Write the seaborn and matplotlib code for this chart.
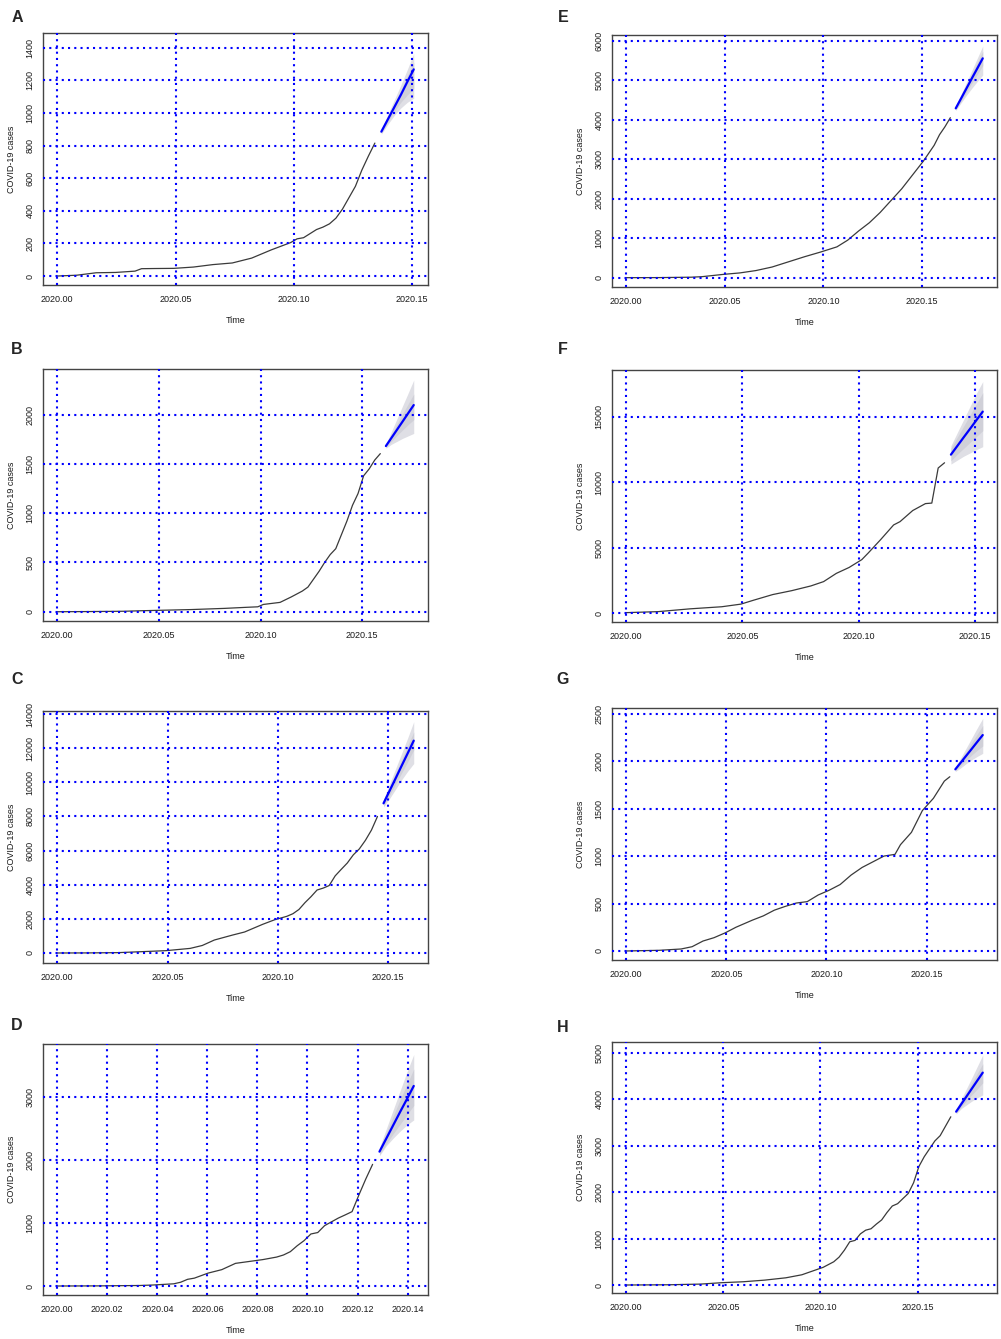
import numpy as np
import pandas as pd
import seaborn as sns
from matplotlib import pyplot as plt

# datos (dias desde 2020.00, casos acumulados)

# A
a_days = [0, 3, 6, 9, 12, 13, 15, 18, 21, 24, 27, 30, 33, 36, 37, 38, 39, 40, 41, 42, 43, 44, 45, 46, 47, 48, 49]
a_cases = [0, 5, 20, 22, 30, 45, 46, 47, 55, 70, 80, 110, 160, 205, 228, 235, 260, 285, 300, 320, 355, 410, 480, 550, 650, 735, 815]
a_fc_days = [50, 51, 52, 53, 54, 55]
a_fc_mean = [885, 960, 1035, 1110, 1190, 1267]
a_lo80 = [875, 945, 1010, 1065, 1110, 1150]
a_hi80 = [895, 975, 1060, 1140, 1225, 1310]
a_lo95 = [870, 930, 985, 1030, 1065, 1090]
a_hi95 = [900, 990, 1080, 1170, 1265, 1365]

# B
b_days = [0, 6, 12, 15, 18, 24, 30, 34, 36, 37, 40, 42, 44, 45, 46, 47, 48, 49, 50, 51, 52, 53, 54, 55, 56, 57, 58]
b_cases = [0, 2, 5, 10, 14, 22, 34, 45, 50, 74, 95, 150, 210, 250, 330, 410, 500, 580, 640, 780, 920, 1080, 1200, 1380, 1450, 1540, 1605]
b_fc_days = [59, 60, 61, 62, 63, 64]
b_fc_mean = [1682, 1765, 1848, 1931, 2015, 2098]
b_lo80 = [1668, 1730, 1790, 1845, 1900, 1950]
b_hi80 = [1695, 1800, 1905, 2010, 2110, 2210]
b_lo95 = [1660, 1700, 1730, 1760, 1785, 1810]
b_hi95 = [1700, 1830, 1960, 2090, 2220, 2352]

# C
c_days = [0, 5, 10, 14, 18, 22, 24, 26, 29, 31, 34, 36, 38, 39, 40, 41, 42, 43, 44, 45, 46, 47, 48, 49, 50, 51, 52, 53]
c_cases = [0, 5, 20, 78, 137, 270, 440, 760, 1050, 1230, 1680, 1950, 2150, 2300, 2550, 2950, 3300, 3690, 3800, 3950, 4520, 4900, 5270, 5750, 6100, 6600, 7200, 8000]
c_fc_days = [54, 55, 56, 57, 58, 59]
c_fc_mean = [8768, 9500, 10230, 10970, 11700, 12440]
c_lo80 = [8600, 9250, 9900, 10550, 11200, 11900]
c_hi80 = [8950, 9750, 10550, 11350, 12150, 12950]
c_lo95 = [8550, 9050, 9600, 10150, 10650, 11100]
c_hi95 = [9000, 9900, 10800, 11700, 12600, 13550]

# D
d_days = [0, 6, 12, 14, 17, 18, 19, 20, 22, 24, 26, 28, 30, 32, 33, 34, 35, 36, 37, 38, 39, 40, 41, 42, 43, 44, 45, 46]
d_cases = [0, 2, 8, 16, 35, 60, 106, 125, 205, 260, 360, 390, 420, 460, 493, 546, 640, 721, 827, 850, 960, 1020, 1080, 1130, 1182, 1447, 1700, 1934]
d_fc_days = [47, 48, 49, 50, 51, 52]
d_fc_mean = [2136, 2345, 2555, 2765, 2970, 3180]
d_lo80 = [2090, 2260, 2420, 2570, 2720, 2870]
d_hi80 = [2180, 2440, 2700, 2960, 3200, 3450]
d_lo95 = [2070, 2230, 2350, 2460, 2560, 2640]
d_hi95 = [2200, 2500, 2800, 3100, 3400, 3680]

# E
e_days = [0, 6, 12, 14, 18, 21, 24, 27, 30, 33, 36, 39, 41, 43, 45, 47, 49, 51, 53, 55, 57, 58, 59, 60]
e_cases = [0, 2, 12, 25, 84, 120, 180, 270, 400, 530, 650, 780, 950, 1180, 1390, 1650, 1950, 2250, 2600, 2950, 3350, 3620, 3820, 4050]
e_fc_days = [61, 62, 63, 64, 65, 66]
e_fc_mean = [4287, 4540, 4795, 5050, 5300, 5553]
e_lo80 = [4250, 4470, 4700, 4930, 5150, 5370]
e_hi80 = [4330, 4610, 4890, 5170, 5450, 5730]
e_lo95 = [4230, 4430, 4620, 4800, 4970, 5130]
e_hi95 = [4350, 4650, 4950, 5250, 5560, 5865]

# F
f_days = [0, 5, 10, 15, 18, 20, 23, 26, 29, 31, 33, 35, 37, 38, 40, 42, 43, 45, 47, 48, 49, 50]
f_cases = [50, 127, 340, 500, 700, 1000, 1430, 1730, 2090, 2420, 3050, 3500, 4100, 4600, 5650, 6750, 7000, 7850, 8380, 8420, 11100, 11500]
f_fc_days = [51, 52, 53, 54, 55, 56]
f_fc_mean = [12121, 12780, 13440, 14090, 14750, 15407]
f_lo80 = [11650, 12150, 12600, 13050, 13500, 13950]
f_hi80 = [12600, 13450, 14300, 15150, 16000, 16850]
f_lo95 = [11400, 11700, 12000, 12250, 12500, 12730]
f_hi95 = [12800, 13800, 14800, 15800, 16800, 17700]

# G
g_days = [0, 6, 10, 12, 14, 16, 18, 20, 23, 25, 27, 29, 31, 33, 35, 37, 39, 41, 43, 45, 47, 49, 50, 52, 54, 56, 58, 59]
g_cases = [0, 7, 21, 45, 105, 140, 190, 250, 325, 370, 430, 470, 505, 520, 590, 640, 700, 800, 880, 940, 1000, 1018, 1120, 1250, 1480, 1608, 1790, 1836]
g_fc_days = [60, 61, 62, 63, 64, 65]
g_fc_mean = [1914, 1986, 2058, 2130, 2203, 2275]
g_lo80 = [1900, 1955, 2010, 2065, 2115, 2160]
g_hi80 = [1925, 2015, 2105, 2195, 2285, 2375]
g_lo95 = [1890, 1930, 1975, 2015, 2050, 2082]
g_hi95 = [1930, 2035, 2140, 2245, 2350, 2451]

# H
h_days = [0, 8, 14, 18, 22, 26, 30, 33, 35, 37, 39, 40, 41, 42, 43, 44, 45, 46, 47, 48, 49, 50, 51, 53, 54, 55, 56, 58, 59, 61]
h_cases = [0, 5, 20, 50, 70, 105, 155, 220, 300, 380, 500, 600, 750, 930, 960, 1100, 1180, 1210, 1310, 1400, 1560, 1700, 1750, 1970, 2200, 2550, 2760, 3100, 3214, 3620]
h_fc_days = [62, 63, 64, 65, 66, 67]
h_fc_mean = [3730, 3898, 4066, 4234, 4402, 4570]
h_lo80 = [3700, 3840, 3970, 4100, 4220, 4350]
h_hi80 = [3760, 3960, 4160, 4360, 4560, 4760]
h_lo95 = [3680, 3800, 3880, 3960, 4030, 4090]
h_hi95 = [3780, 4010, 4240, 4470, 4710, 4950]

x_ticks_5 = [2020.00, 2020.05, 2020.10, 2020.15]
x_ticks_d = [2020.00, 2020.02, 2020.04, 2020.06, 2020.08, 2020.10, 2020.12, 2020.14]

paneles = {
    'A': (a_days, a_cases, a_fc_days, a_fc_mean, a_lo80, a_hi80, a_lo95, a_hi95, x_ticks_5, np.arange(0, 1401, 200)),
    'B': (b_days, b_cases, b_fc_days, b_fc_mean, b_lo80, b_hi80, b_lo95, b_hi95, x_ticks_5, np.arange(0, 2001, 500)),
    'C': (c_days, c_cases, c_fc_days, c_fc_mean, c_lo80, c_hi80, c_lo95, c_hi95, x_ticks_5, np.arange(0, 14001, 2000)),
    'D': (d_days, d_cases, d_fc_days, d_fc_mean, d_lo80, d_hi80, d_lo95, d_hi95, x_ticks_d, np.arange(0, 3001, 1000)),
    'E': (e_days, e_cases, e_fc_days, e_fc_mean, e_lo80, e_hi80, e_lo95, e_hi95, x_ticks_5, np.arange(0, 6001, 1000)),
    'F': (f_days, f_cases, f_fc_days, f_fc_mean, f_lo80, f_hi80, f_lo95, f_hi95, x_ticks_5, np.arange(0, 15001, 5000)),
    'G': (g_days, g_cases, g_fc_days, g_fc_mean, g_lo80, g_hi80, g_lo95, g_hi95, x_ticks_5, np.arange(0, 2501, 500)),
    'H': (h_days, h_cases, h_fc_days, h_fc_mean, h_lo80, h_hi80, h_lo95, h_hi95, x_ticks_5, np.arange(0, 5001, 1000)),
}

# limites del eje y y posicion (pixeles: izquierda, arriba, abajo) de cada panel
ylims = {'A': (-55, 1490), 'B': (-94, 2464), 'C': (-586, 14177), 'D': (-143, 3847),
         'E': (-236, 6144), 'F': (-665, 18587), 'G': (-95, 2560), 'H': (-172, 5229)}
cajas = {'A': (43, 33, 285), 'B': (43, 369, 621), 'C': (43, 711, 963), 'D': (43, 1044, 1295),
         'E': (612, 35, 287), 'F': (612, 370, 622), 'G': (612, 708, 960), 'H': (612, 1042, 1293)}
letras = {'A': (17, 18), 'B': (17, 350), 'C': (17, 680), 'D': (17, 1026),
          'E': (563, 18), 'F': (563, 350), 'G': (563, 680), 'H': (563, 1027)}

sns.set_style('white')
plt.rcParams['font.family'] = ['Liberation Sans', 'DejaVu Sans']

W, H = 1001, 1339
fig = plt.figure(figsize=(W / 100, H / 100), dpi=100)

for key, (dias, casos, fdias, fmed, lo80, hi80, lo95, hi95, xt, yt) in paneles.items():
    izq, arr, aba = cajas[key]
    ax = fig.add_axes([izq / W, 1 - aba / H, 385 / W, (aba - arr) / H])

    obs = pd.DataFrame({'t': 2020 + np.array(dias) / 365, 'casos': casos})
    fc = pd.DataFrame({'t': 2020 + np.array(fdias) / 365, 'media': fmed,
                       'lo80': lo80, 'hi80': hi80, 'lo95': lo95, 'hi95': hi95})

    # bandas de prediccion 95% y 80%
    ax.fill_between(fc['t'], fc['lo95'], fc['hi95'], color='#dfdfe5', lw=0, zorder=1)
    ax.fill_between(fc['t'], fc['lo80'], fc['hi80'], color='#d0d0d8', lw=0, zorder=1)
    sns.lineplot(data=obs, x='t', y='casos', ax=ax, color='#3a3a3a', linewidth=0.9,
                 estimator=None, zorder=2)
    sns.lineplot(data=fc, x='t', y='media', ax=ax, color='#0000ff', linewidth=1.6,
                 estimator=None, zorder=2)

    ax.margins(x=0.04)
    ax.set_ylim(*ylims[key])
    ax.set_xticks(xt)
    ax.set_xticklabels(['{:.2f}'.format(v) for v in xt])
    ax.set_yticks(yt)
    ax.set_yticklabels([str(v) for v in yt], rotation=90, va='center')

    for v in xt:
        ax.axvline(v, color='#0000ff', linestyle=(0, (1, 2)), linewidth=1.5, zorder=3)
    for v in yt:
        ax.axhline(v, color='#0000ff', linestyle=(0, (1, 2)), linewidth=1.5, zorder=3)

    for s in ax.spines.values():
        s.set_color('#444444')
        s.set_linewidth(1.0)
    ax.tick_params(direction='out', length=3, width=0.8, color='#444444',
                   labelsize=6.5, labelcolor='#1a1a1a', pad=4)
    ax.tick_params(axis='y', pad=3)
    ax.set_xlabel('Time', fontsize=6.5, color='#1a1a1a', labelpad=9)
    ax.set_ylabel('COVID-19 cases', fontsize=6.5, color='#1a1a1a', labelpad=7)

    lx, ly = letras[key]
    fig.text(lx / W, 1 - ly / H, key, fontsize=11.5, fontweight='bold',
             ha='center', va='center')

fig.savefig('out.png', dpi=100)
